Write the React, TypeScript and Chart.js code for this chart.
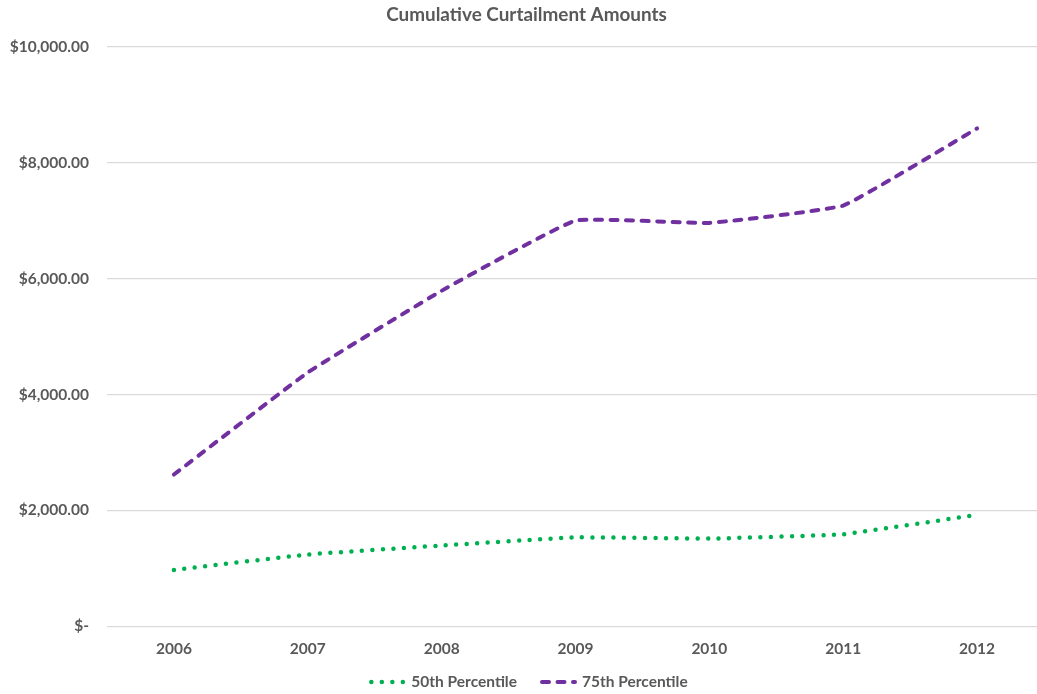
import React, { useEffect, useRef } from "react";
import { Chart, registerables } from "chart.js";

Chart.register(...registerables);

const years = ["2006", "2007", "2008", "2009", "2010", "2011", "2012"];
const p50 = [975, 1240, 1395, 1535, 1515, 1590, 1925];
const p75 = [2620, 4380, 5790, 7000, 6960, 7260, 8590];
const yTicks = [0, 2000, 4000, 6000, 8000, 10000];

const GREEN = "#00b050";
const PURPLE = "#7030a0";
const TEXT = "#595959";
const FONT = "Lato, 'Open Sans', sans-serif";
const TICK_FONT = { family: FONT, size: 15.5, weight: "bold" as const };

const DOTS = [0, 10.5];
const DASHES = [7, 8.5];

const money = (v: number) =>
  v === 0
    ? "$-"
    : "$" + v.toLocaleString("en-US", { minimumFractionDigits: 2, maximumFractionDigits: 2 });

// Bottom legend: a short stroke in each series' own dash style, then its name.
const seriesLegend = {
  id: "seriesLegend",
  afterDraw(chart: any) {
    const { ctx, data } = chart;
    const sample = 34;
    const gap = 7;
    const between = 24;
    const cy = 682;
    ctx.save();
    ctx.font = `bold ${TICK_FONT.size}px ${FONT}`;
    const widths = data.datasets.map((ds: any) => sample + gap + ctx.measureText(ds.label).width);
    const total = widths.reduce((a: number, b: number) => a + b, 0) + between * (widths.length - 1);
    let x = 529 - total / 2;
    data.datasets.forEach((ds: any, i: number) => {
      ctx.beginPath();
      ctx.strokeStyle = ds.borderColor;
      ctx.lineWidth = ds.borderWidth;
      ctx.lineCap = "round";
      ctx.setLineDash(ds.borderDash);
      ctx.moveTo(x + 1, cy);
      ctx.lineTo(x + sample, cy);
      ctx.stroke();
      ctx.setLineDash([]);
      ctx.fillStyle = TEXT;
      ctx.textBaseline = "middle";
      ctx.textAlign = "left";
      ctx.fillText(ds.label, x + sample + gap, cy);
      x += widths[i] + between;
    });
    ctx.restore();
  },
};

export default function App() {
  const ref = useRef<HTMLCanvasElement>(null);

  useEffect(() => {
    document.body.style.margin = "0";
    const ctx = ref.current!.getContext("2d")!;
    const chart = new Chart(ctx, {
      type: "line",
      plugins: [seriesLegend],
      data: {
        labels: years,
        datasets: [
          {
            label: "50th Percentile",
            data: p50,
            borderColor: GREEN,
            backgroundColor: GREEN,
            borderWidth: 4.5,
            borderDash: DOTS,
            borderCapStyle: "round",
            pointRadius: 0,
            tension: 0.1,
          },
          {
            label: "75th Percentile",
            data: p75,
            borderColor: PURPLE,
            backgroundColor: PURPLE,
            borderWidth: 4,
            borderDash: DASHES,
            borderCapStyle: "round",
            pointRadius: 0,
            tension: 0.1,
          },
        ],
      },
      options: {
        responsive: false,
        animation: false,
        layout: { padding: { left: 9, right: 0, top: 4, bottom: 31 } },
        plugins: {
          title: {
            display: true,
            text: "Cumulative Curtailment Amounts",
            color: TEXT,
            font: { family: FONT, size: 18.9, weight: "bold" },
            padding: { top: 0, bottom: 20 },
          },
          legend: { display: false },
          tooltip: { enabled: false },
        },
        scales: {
          x: {
            offset: true,
            grid: { display: false },
            border: { display: false },
            ticks: {
              color: TEXT,
              font: TICK_FONT,
              padding: 5,
            },
          },
          y: {
            min: 0,
            max: 10000,
            border: { display: false },
            grid: { color: "#d9d9d9", lineWidth: 1.3, drawTicks: false },
            afterBuildTicks: (axis) => {
              axis.ticks = yTicks.map((value) => ({ value }));
            },
            afterFit: (axis) => {
              axis.width = 98;
            },
            ticks: {
              color: TEXT,
              font: TICK_FONT,
              padding: 18,
              callback: (v) => money(Number(v)),
            },
          },
        },
      },
    });
    return () => chart.destroy();
  }, []);

  // the plot runs slightly past the right edge of the visible frame
  return (
    <div style={{ width: 1037, height: 694, background: "#fff", overflow: "hidden" }}>
      <canvas ref={ref} width={1044} height={694} style={{ display: "block" }} />
    </div>
  );
}
